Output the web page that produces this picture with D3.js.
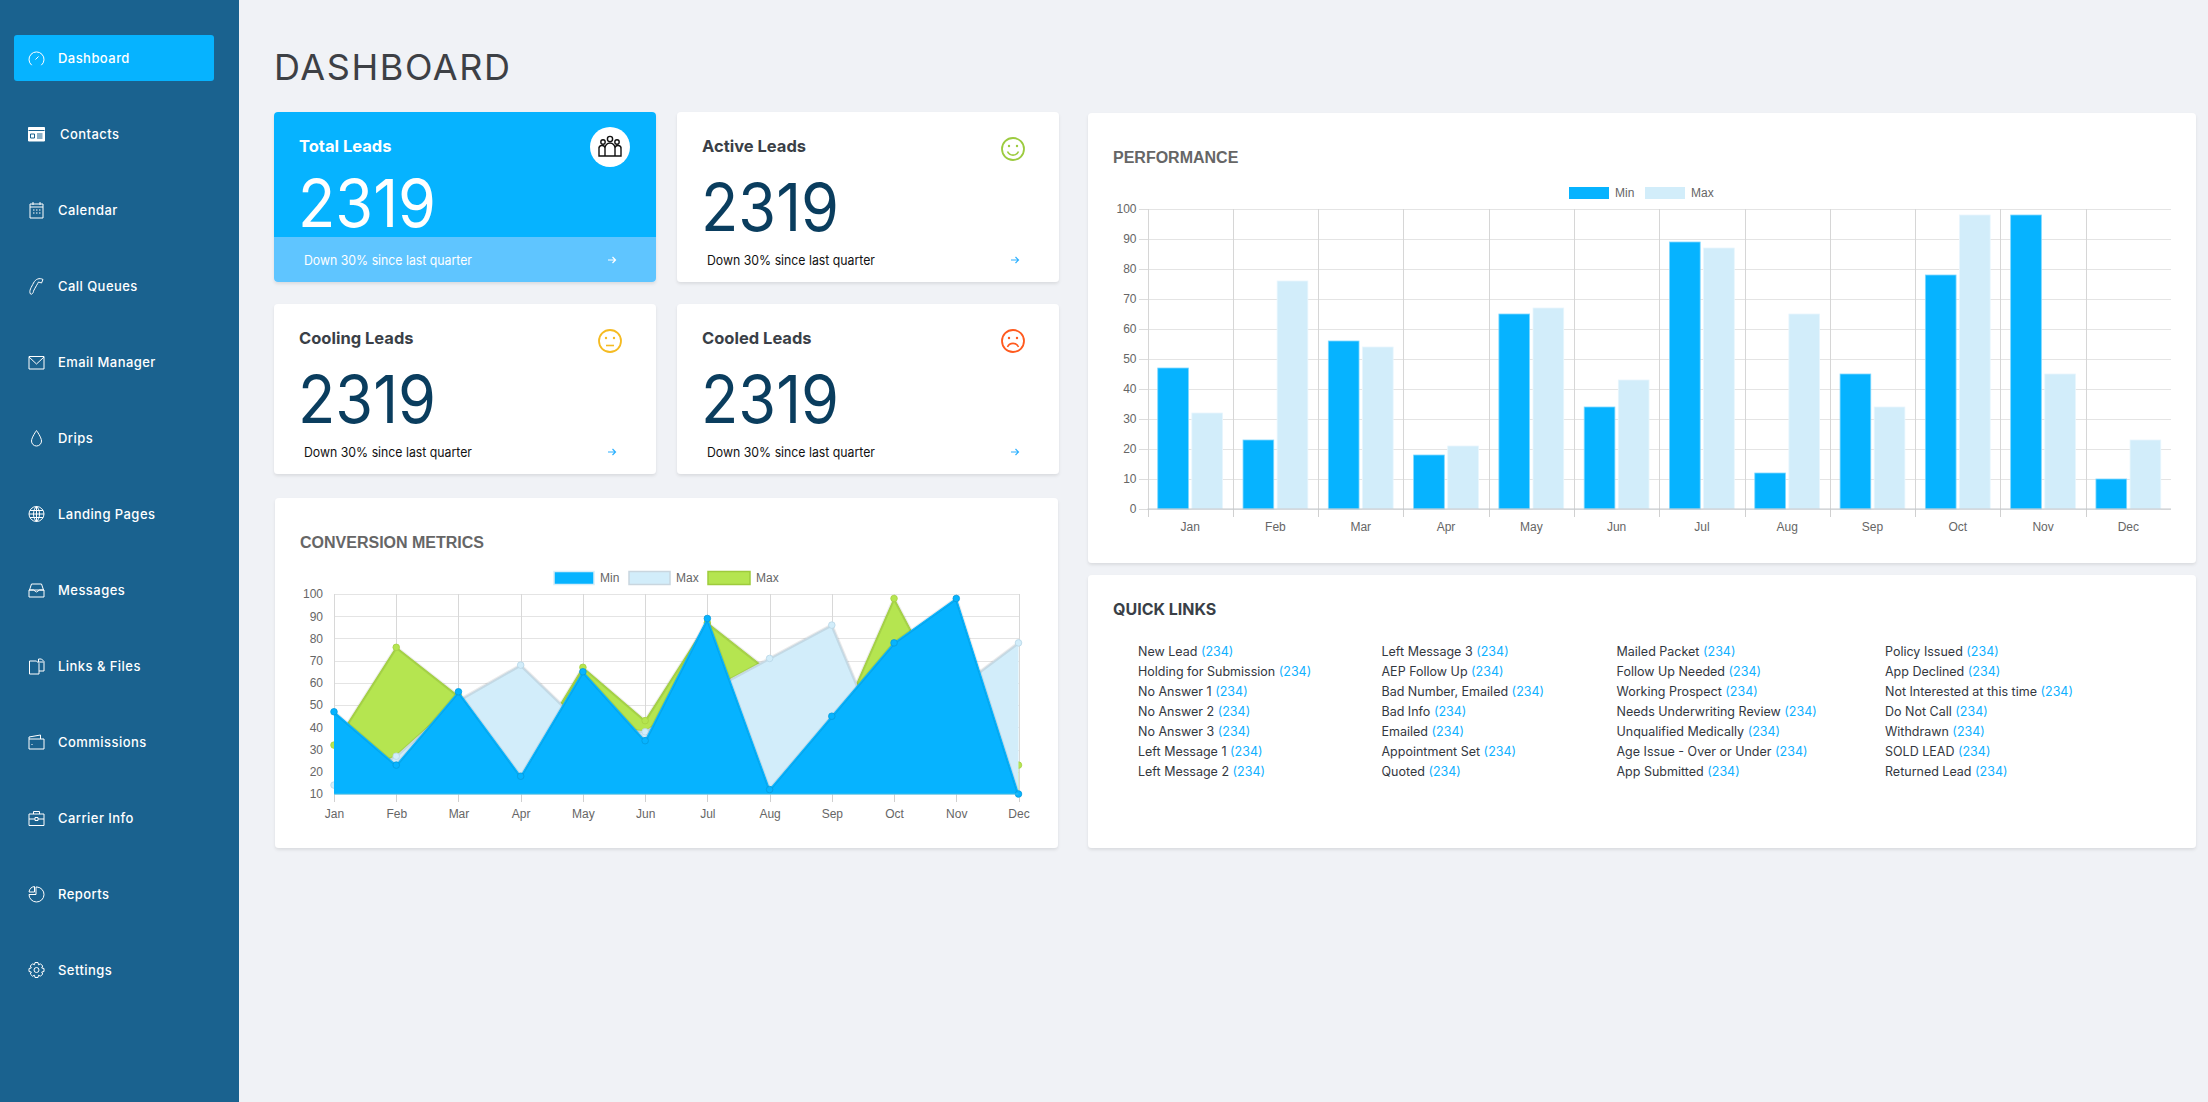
<!DOCTYPE html>
<html>
<head>
<meta charset="utf-8">
<title>Dashboard</title>
<script src="https://cdn.jsdelivr.net/npm/d3@7"></script>
<style>
  html, body { margin: 0; padding: 0; background: #f0f2f6; }
  svg { display: block; }
  text { font-family: Inter, "Noto Sans", sans-serif; }
  .chart text { font-family: "Liberation Sans", Arial, sans-serif; fill: #666; font-size: 12px; }
  .chart .title { font-size: 16px; font-weight: 700; fill: #666; }
  .domain { display: none; }
  .tick line { shape-rendering: crispEdges; }
</style>
</head>
<body>
<svg id="page" width="2208" height="1102"></svg>
<script>
// chart data
var months = ["Jan", "Feb", "Mar", "Apr", "May", "Jun", "Jul", "Aug", "Sep", "Oct", "Nov", "Dec"];
var minValues = [47, 23, 56, 18, 65, 34, 89, 12, 45, 78, 98, 10];
var maxValues = [32, 76, 54, 21, 67, 43, 87, 65, 34, 98, 45, 23];
var lightValues = [14, 27, 52, 68, 41, 38, 56, 71, 86, 19, 57, 78];

// page text
var navLabels = ["Dashboard", "Contacts", "Calendar", "Call Queues", "Email Manager", "Drips", "Landing Pages",
  "Messages", "Links & Files", "Commissions", "Carrier Info", "Reports", "Settings"];
var statTitles = ["Total Leads", "Active Leads", "Cooling Leads", "Cooled Leads"];
var statValue = "2319";
var statNote = "Down 30% since last quarter";
var linkColumns = [
  ["New Lead", "Holding for Submission", "No Answer 1", "No Answer 2", "No Answer 3", "Left Message 1", "Left Message 2"],
  ["Left Message 3", "AEP Follow Up", "Bad Number, Emailed", "Bad Info", "Emailed", "Appointment Set", "Quoted"],
  ["Mailed Packet", "Follow Up Needed", "Working Prospect", "Needs Underwriting Review", "Unqualified Medically", "Age Issue - Over or Under", "App Submitted"],
  ["Policy Issued", "App Declined", "Not Interested at this time", "Do Not Call", "Withdrawn", "SOLD LEAD", "Returned Lead"]
];
var linkCount = "(234)";

var BLUE = "#06b3ff", LIGHT = "#d2edfa", GREEN = "#b5e550", NAVY = "#0a3d5e", INK = "#3a3f47";

var svg = d3.select("#page");
var defs = svg.append("defs");
var shadow = defs.append("filter").attr("id", "cardShadow")
  .attr("x", "-2%").attr("y", "-2%").attr("width", "104%").attr("height", "106%");
shadow.append("feDropShadow").attr("dx", 0).attr("dy", 2).attr("stdDeviation", 1.5)
  .attr("flood-color", "#000").attr("flood-opacity", 0.09);

svg.append("rect").attr("width", 2208).attr("height", 1102).attr("fill", "#f0f2f6");

// sidebar
svg.append("rect").attr("width", 239).attr("height", 1102).attr("fill", "#1a628f");
svg.append("rect").attr("x", 14).attr("y", 35).attr("width", 200).attr("height", 46).attr("rx", 3).attr("fill", BLUE);

// rough icons, drawn in a 16x16 box
var navIcons = [
  ["M3.2 15.2A7.5 7.5 0 1 1 12.8 15.2", "M7 9.5L10 6.5"],
  ["M0 1.5H16V15H0Z"],
  ["M1.5 2H14.5V16H1.5Z", "M4.5 0V3M11.5 0V3M1.5 5H14.5", "M4.5 8H6M7.5 8H9M10.5 8H12M4.5 11H6M7.5 11H9M10.5 11H12"],
  ["M2 16C0 13 3 9 5 5C7 1 11 -0.5 14.5 1.5L13 5L10 4C9 6 7 9 5 13C5 15 3 17 2 16Z"],
  ["M0.5 2.5H15.5V15H0.5Z", "M0.5 3L8 10L15.5 3"],
  ["M8 0.5C8 0.5 3 7.5 3 11A5 5 0 0 0 13 11C13 7.5 8 0.5 8 0.5Z"],
  ["M8 0.5A7.5 7.5 0 1 0 8 15.5A7.5 7.5 0 1 0 8 0.5Z", "M8 0.5C4 4 4 12 8 15.5C12 12 12 4 8 0.5Z", "M8 0.5V15.5M0.5 8H15.5M1.5 4.5H14.5M1.5 11.5H14.5"],
  ["M0.5 8H15.5V15H0.5Z", "M1 8L3 2H13L15 8", "M0.5 8H5L8 10L11 8H15.5"],
  ["M1 3H8L10.5 5.5V16H1Z", "M10 1H13L15.5 3.5V13H10.5", "M10 1V4H15"],
  ["M0.5 5H15.5V15H0.5Z", "M0.5 5V3L12 1V5", "M3 10.5H4"],
  ["M0.5 4H15.5V15.5H0.5Z", "M5 4V1.5H11V4", "M0.5 9H6.5M9.5 9H15.5", "M6.5 7.5H9.5V10.5H6.5Z"],
  ["M8.5 1A7.5 7.5 0 1 1 0.5 8.5H7.5V1Z", "M6 0.5V6H0.5A6.5 6.5 0 0 1 6 0.5Z"],
  ["M6.5 0.5H9.5L10 2.8L12 1.8L14.2 4L13.2 6L15.5 6.5V9.5L13.2 10L14.2 12L12 14.2L10 13.2L9.5 15.5H6.5L6 13.2L4 14.2L1.8 12L2.8 10L0.5 9.5V6.5L2.8 6L1.8 4L4 1.8L6 2.8Z", "M8 5.5A2.5 2.5 0 1 0 8 10.5A2.5 2.5 0 1 0 8 5.5Z"]
];

var navRow = d3.scalePoint().domain(navLabels).range([58, 970]);
var nav = svg.append("g").selectAll("g").data(navLabels).join("g")
  .attr("transform", function(d) { return "translate(0," + navRow(d) + ")"; });
nav.append("text")
  .attr("x", function(d) { return d === "Contacts" ? 60 : 58; })
  .attr("dy", "0.35em")
  .attr("fill", "#fff").attr("font-size", 13).attr("font-weight", 500).attr("letter-spacing", 0.45)
  .text(function(d) { return d; });
nav.append("g").attr("transform", "translate(28.5,-8)")
  .selectAll("path").data(function(d, i) { return navIcons[i]; }).join("path")
  .attr("d", function(d) { return d; })
  .attr("fill", function(d) { return d === navIcons[1][0] ? "#fff" : "none"; })
  .attr("stroke", "#fff").attr("stroke-width", 1);
// the contacts card is the one filled icon, its details are cut back in the sidebar colour
nav.filter(function(d) { return d === "Contacts"; }).append("path")
  .attr("transform", "translate(28.5,-8)")
  .attr("d", "M0 4.5H16M2 8H6V12H2ZM8.5 8H14M8.5 10H14M8.5 12H14")
  .attr("fill", "none").attr("stroke", "#1a628f").attr("stroke-width", 1);

// page title
svg.append("text").attr("x", 274).attr("y", 80)
  .attr("font-size", 36).attr("font-weight", 400).attr("fill", "#3d4045")
  .attr("textLength", 236).attr("lengthAdjust", "spacing")
  .text("DASHBOARD");

function card(x, y, w, h) {
  var g = svg.append("g").attr("transform", "translate(" + x + "," + y + ")");
  g.append("rect").attr("width", w).attr("height", h).attr("rx", 4).attr("fill", "#fff").attr("filter", "url(#cardShadow)");
  return g;
}

function face(g, color, mouth) {
  var f = g.append("g").attr("transform", "translate(0,0)");
  f.append("circle").attr("r", 11).attr("fill", "none").attr("stroke", color).attr("stroke-width", 1.8);
  f.selectAll("circle.eye").data([-4, 4]).join("circle").attr("class", "eye")
    .attr("cx", function(d) { return d; }).attr("cy", -3).attr("r", 1.2).attr("fill", color);
  f.append("path").attr("d", mouth).attr("fill", "none").attr("stroke", color).attr("stroke-width", 1.6);
}

function arrow(g, color) {
  g.append("path").attr("d", "M-4 0H3.5M0.5 -3L3.5 0L0.5 3").attr("fill", "none").attr("stroke", color).attr("stroke-width", 1.2);
}

// stat cards
var statCards = [
  { x: 274, y: 112, color: "#5fc5ff", icon: null, top: 115 },
  { x: 677, y: 112, color: "#9ccb3f", mouth: "M-5.5 2.5A6 6 0 0 0 5.5 2.5", top: 119 },
  { x: 274, y: 304, color: "#f5bb22", mouth: "M-4 4.5H4", top: 119 },
  { x: 677, y: 304, color: "#ff5a1e", mouth: "M-5.5 6A6 6 0 0 1 5.5 6", top: 119 }
];
statCards.forEach(function(c, i) {
  var first = i === 0;
  var g = card(c.x, c.y, 382, 170);
  if (first) {
    g.append("path").attr("d", "M0 4A4 4 0 0 1 4 0H378A4 4 0 0 1 382 4V125H0Z").attr("fill", BLUE);
    g.append("path").attr("d", "M0 125H382V166A4 4 0 0 1 378 170H4A4 4 0 0 1 0 166Z").attr("fill", c.color);
    var badge = g.append("g").attr("transform", "translate(336,35)");
    badge.append("circle").attr("r", 20).attr("fill", "#fff");
    badge.selectAll("circle.head").data([[-7, -5, 2.2], [0, -8, 2.6], [7, -5, 2.2]]).join("circle").attr("class", "head")
      .attr("cx", function(d) { return d[0]; }).attr("cy", function(d) { return d[1]; }).attr("r", function(d) { return d[2]; })
      .attr("fill", "none").attr("stroke", "#111").attr("stroke-width", 1.4);
    badge.append("path").attr("d", "M-11 9V2A3 3 0 0 1 -5 1A4 4 0 0 1 5 1A3 3 0 0 1 11 2V9ZM-5 1V9M5 1V9")
      .attr("fill", "none").attr("stroke", "#111").attr("stroke-width", 1.4);
  } else {
    face(g.append("g").attr("transform", "translate(336,37)"), c.color, c.mouth);
  }
  g.append("text").attr("x", 25).attr("y", 34).attr("dy", "0.35em")
    .attr("font-size", 16.5).attr("font-weight", 700).attr("fill", first ? "#fff" : INK)
    .text(statTitles[i]);
  g.append("text").attr("x", 24).attr("y", c.top)
    .attr("font-size", 66).attr("font-weight", 400).attr("fill", first ? "#fff" : NAVY)
    .attr("textLength", 138).attr("lengthAdjust", "spacingAndGlyphs")
    .text(statValue);
  g.append("text").attr("x", 30).attr("y", 148).attr("dy", "0.35em")
    .attr("font-size", 13).attr("fill", first ? "#fff" : "#111")
    .attr("textLength", 168).attr("lengthAdjust", "spacingAndGlyphs")
    .text(statNote);
  arrow(g.append("g").attr("transform", "translate(338,148)"), first ? "#fff" : "#2cb0ff");
});

// conversion metrics (area chart)
var convCard = card(275, 498, 783, 350).attr("class", "chart");
convCard.append("text").attr("class", "title").attr("x", 25).attr("y", 44).attr("dy", "0.35em").text("CONVERSION METRICS");

var areaW = 684.5, areaH = 200;
var areaG = convCard.append("g").attr("transform", "translate(59,96)");
var areaX = d3.scalePoint().domain(months).range([0, areaW]);
var areaY = d3.scaleLinear().domain([10, 100]).range([areaH, 0]);

areaG.append("g").call(d3.axisLeft(areaY).ticks(10).tickSize(-areaW).tickFormat(""))
  .selectAll("line").attr("stroke", "#e4e4e4");
areaG.append("g").attr("transform", "translate(0," + areaH + ")")
  .call(d3.axisBottom(areaX).tickSize(-areaH).tickFormat(""))
  .selectAll("line").attr("stroke", "#d8d8d8");
areaG.append("g").call(d3.axisLeft(areaY).ticks(10).tickSize(0).tickPadding(11))
  .selectAll("text").attr("font-size", 12);
areaG.append("g").attr("transform", "translate(0," + areaH + ")")
  .call(d3.axisBottom(areaX).tickSize(8).tickPadding(7))
  .selectAll("line").attr("stroke", "#d0d0d0");

var areaPath = d3.area().x(function(d, i) { return areaX(months[i]); }).y0(areaH).y1(function(d) { return areaY(d); });
var topLine = d3.line().x(function(d, i) { return areaX(months[i]); }).y(function(d) { return areaY(d); });

// drawn back to front: the first legend entry ends up on top
var areaSeries = [
  { name: "Max", values: maxValues, fill: GREEN, line: "#a2cf40", dot: "#a6d043" },
  { name: "Max", values: lightValues, fill: LIGHT, line: "#c9d8e2", dot: "#b8d6e6" },
  { name: "Min", values: minValues, fill: BLUE, line: BLUE, dot: "#059bdc" }
];
areaSeries.forEach(function(s) {
  areaG.append("path").attr("d", areaPath(s.values)).attr("fill", s.fill);
  areaG.append("path").attr("d", topLine(s.values)).attr("fill", "none").attr("stroke", "#000").attr("stroke-opacity", 0.08).attr("stroke-width", 3.2);
  areaG.append("path").attr("d", topLine(s.values)).attr("fill", "none").attr("stroke", s.line).attr("stroke-width", 1.1);
  areaG.selectAll(null).data(s.values).join("circle")
    .attr("cx", function(d, i) { return areaX(months[i]); })
    .attr("cy", function(d) { return areaY(d); })
    .attr("r", 3.3)
    .attr("fill", s.fill)
    .attr("stroke", s.dot).attr("stroke-width", 0.8);
});
areaG.append("line").attr("x1", 0).attr("x2", areaW).attr("y1", areaH).attr("y2", areaH).attr("stroke", "#38c0ee").attr("stroke-width", 1.2);

var convLegend = [
  { label: "Min", fill: BLUE, line: "#d9eef8", x: 279, w: 40 },
  { label: "Max", fill: LIGHT, line: "#c9d6df", x: 354, w: 41 },
  { label: "Max", fill: GREEN, line: "#9ecb3c", x: 433, w: 42 }
];
var convKeys = convCard.append("g").selectAll("g").data(convLegend).join("g")
  .attr("transform", function(d) { return "translate(" + d.x + ",80)"; });
convKeys.append("rect").attr("y", -6.5).attr("width", function(d) { return d.w; }).attr("height", 13)
  .attr("fill", function(d) { return d.fill; }).attr("stroke", function(d) { return d.line; }).attr("stroke-width", 1.5);
convKeys.append("text").attr("x", function(d) { return d.w + 6; }).attr("dy", "0.35em").text(function(d) { return d.label; });

// performance (grouped bars)
var perfCard = card(1088, 113, 1108, 450).attr("class", "chart");
perfCard.append("text").attr("class", "title").attr("x", 25).attr("y", 44).attr("dy", "0.35em").text("PERFORMANCE");

var barW = 1023.5, barH = 300;
var barG = perfCard.append("g").attr("transform", "translate(59.5,96)");
var barX = d3.scaleBand().domain(months).range([0, barW]);
var barGroup = d3.scaleBand().domain(["Min", "Max"]).range([barX.bandwidth() * 0.1, barX.bandwidth() * 0.9])
  .paddingInner(0.1).paddingOuter(0.05);
var barY = d3.scaleLinear().domain([0, 100]).range([barH, 0]);
var barSlots = d3.scaleLinear().domain([0, 12]).range([0, barW]);

barG.append("g").call(d3.axisLeft(barY).ticks(10).tickSize(-barW).tickFormat(""))
  .selectAll("line").attr("stroke", "#e4e4e4");
barG.append("g").attr("transform", "translate(0," + barH + ")")
  .call(d3.axisBottom(barSlots).tickValues(d3.range(12)).tickSize(-barH).tickFormat(""))
  .selectAll("line").attr("stroke", "#d6d6d6");
barG.append("g").attr("transform", "translate(0," + barH + ")")
  .call(d3.axisBottom(barSlots).tickValues(d3.range(12)).tickSize(8).tickFormat(""))
  .selectAll("line").attr("stroke", "#d0d0d0");
barG.append("g").call(d3.axisLeft(barY).ticks(10).tickSize(9).tickPadding(2))
  .call(function(a) { a.selectAll("line").attr("stroke", "#dcdcdc"); });
barG.append("g").attr("transform", "translate(0," + barH + ")")
  .call(d3.axisBottom(barX).tickSize(0).tickPadding(13));

var barSeries = [
  { name: "Min", values: minValues, fill: BLUE, edge: "#7fd8ff" },
  { name: "Max", values: maxValues, fill: LIGHT, edge: "#e8f6fd" }
];
barSeries.forEach(function(s) {
  barG.append("g").selectAll("rect").data(s.values).join("rect")
    .attr("x", function(d, i) { return barX(months[i]) + barGroup(s.name); })
    .attr("y", function(d) { return barY(d); })
    .attr("width", barGroup.bandwidth())
    .attr("height", function(d) { return barH - barY(d); })
    .attr("fill", s.fill).attr("stroke", s.edge).attr("stroke-width", 0.8);
});
barG.append("line").attr("x1", 0).attr("x2", barW).attr("y1", barH).attr("y2", barH).attr("stroke", "#c4c8cc");

var perfKeys = perfCard.append("g").selectAll("g").data([
  { label: "Min", fill: BLUE, x: 481 }, { label: "Max", fill: LIGHT, x: 557 }
]).join("g").attr("transform", function(d) { return "translate(" + d.x + ",80)"; });
perfKeys.append("rect").attr("y", -6).attr("width", 40).attr("height", 12).attr("fill", function(d) { return d.fill; });
perfKeys.append("text").attr("x", 46).attr("dy", "0.35em").text(function(d) { return d.label; });

// quick links
var linksCard = card(1088, 575, 1108, 273);
linksCard.append("text").attr("x", 25).attr("y", 34).attr("dy", "0.35em")
  .attr("font-size", 16).attr("font-weight", 700).attr("fill", INK).text("QUICK LINKS");

var linkX = [50, 293.5, 528.5, 797];
linkColumns.forEach(function(col, c) {
  var rows = linksCard.append("g").selectAll("text").data(col).join("text")
    .attr("x", linkX[c])
    .attr("y", function(d, i) { return 76.7 + i * 20; })
    .attr("dy", "0.35em")
    .attr("font-size", 12.5).attr("fill", "#33383f");
  rows.append("tspan").text(function(d) { return d + " "; });
  rows.append("tspan").attr("fill", "#0fb0ff").text(linkCount);
});
</script>
</body>
</html>
